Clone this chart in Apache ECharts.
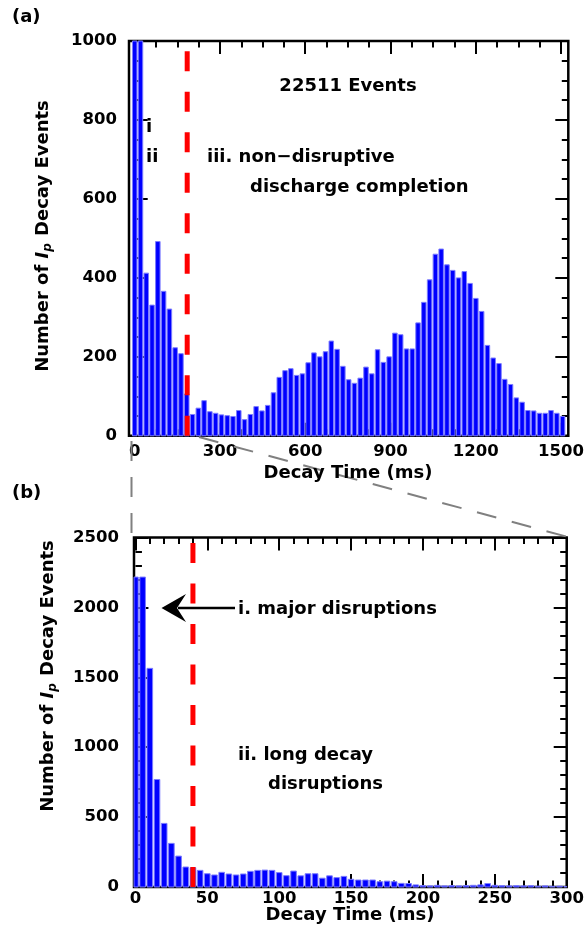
<!DOCTYPE html>
<html>
<head>
<meta charset="utf-8">
<script src="https://cdn.jsdelivr.net/npm/echarts@6/dist/echarts.min.js"></script>
<style>
  html, body { margin: 0; padding: 0; background: #ffffff; }
  #chart { width: 587px; height: 936px; }
</style>
</head>
<body>
<div id="chart"></div>
<script>
// ---- Data -------------------------------------------------------------
// (a) decay-time histogram over 0-1500 ms, 75 bins
const countsA = [5300, 3095, 412, 331, 492, 366, 321, 223, 208, 106,
  54, 70, 89, 61, 57, 53, 51, 49, 64, 41,
  54, 74, 63, 77, 109, 148, 165, 170, 153, 157,
  185, 210, 200, 213, 240, 219, 176, 142, 133, 146,
  174, 157, 218, 186, 200, 260, 256, 220, 220, 286,
  338, 395, 460, 473, 433, 419, 400, 416, 386, 348,
  315, 229, 197, 183, 143, 130, 96, 85, 64, 63,
  57, 57, 64, 57, 49];
const binWidthA = 1500 / 74;            // ms between bin centres
const timesA = countsA.map((_, i) => i * binWidthA);

// (b) zoom on 0-300 ms, 5 ms bins
const binWidthB = 5;
const countsB = [2217, 2217, 1564, 769, 455, 312, 221, 143, 138, 119,
  95, 86, 105, 93, 86, 93, 112, 119, 121, 119,
  103, 81, 114, 80, 95, 95, 63, 80, 67, 76,
  55, 50, 50, 50, 38, 42, 38, 26, 25, 15,
  10, 8, 12, 8, 10, 8, 10, 12, 15, 25,
  12, 10, 8, 10, 8, 10, 6, 8, 5, 6, 4];
const timesB = countsB.map((_, i) => i * binWidthB);

// disruption-class boundaries (ms)
const cutA = 184;
const cutB = 40;

// axis ranges and ticks
const xRangeA = [-20, 1520], xTicksA = [0, 1500, 300];
const yTicksA = [0, 1000, 200];
const xRangeB = [-1, 300],  xTicksB = [0, 300, 50];
const yTicksB = [0, 2500, 500];

// ---- Layout -----------------------------------------------------------
const frameA = { left: 129, top: 41, width: 439.3, height: 394.8 };
const frameB = { left: 134, top: 537.5, width: 432.7, height: 349.5 };

function innerGrid(frame, range, ticks) {
  const k = frame.width / (range[1] - range[0]);
  return {
    left: frame.left + (ticks[0] - range[0]) * k,
    top: frame.top,
    width: (ticks[1] - ticks[0]) * k,
    height: frame.height
  };
}
const innerA = innerGrid(frameA, xRangeA, xTicksA);
const innerB = innerGrid(frameB, xRangeB, xTicksB);

const FONT = 'DejaVu Sans';
const labelStyle = { fontFamily: FONT, fontWeight: 'bold', fontSize: 16.5, color: '#000' };
const tickStyle = { color: '#000', width: 2 };

function valueAxis(grid, ticks, opts) {
  return Object.assign({
    type: 'value', gridIndex: grid,
    min: ticks[0], max: ticks[1], interval: ticks[2],
    axisLine: { show: false },
    splitLine: { show: false },
    axisTick: { show: true, inside: true, length: 13, lineStyle: tickStyle },
    minorTick: { show: true, splitNumber: opts.minor, length: 6.5, lineStyle: tickStyle },
    axisLabel: Object.assign({
      show: !!opts.labels, margin: opts.margin || 8,
      formatter: function (v) { return String(v); }
    }, labelStyle)
  }, opts.extra || {});
}

function hiddenAxis(grid, range) {
  return { type: 'value', gridIndex: grid, min: range[0], max: range[1], show: false };
}

function barRenderer(width) {
  return function (params, api) {
    const t = api.value(0), v = api.value(1);
    const p0 = api.coord([t - width / 2, 0]);
    const p1 = api.coord([t + width / 2, v]);
    const cs = params.coordSys;
    const shape = echarts.graphic.clipRectByRect(
      { x: p0[0], y: p1[1], width: p1[0] - p0[0], height: p0[1] - p1[1] },
      { x: cs.x, y: cs.y, width: cs.width, height: cs.height }
    );
    if (!shape) return null;
    return {
      type: 'rect', shape: shape,
      style: { fill: '#0000ff', stroke: '#7c7cff', lineWidth: 1 }
    };
  };
}

const cutLineStyle = { color: '#ff0000', width: 5, type: [20, 20.5], cap: 'butt' };

const titleFont = 'bold 18px "DejaVu Sans"';
function label(text, x, y, align) {
  return {
    type: 'text', x: x, y: y, z: 100,
    style: { text: text, font: titleFont, fill: '#000',
      align: align || 'left', verticalAlign: 'middle',
      textAlign: align || 'left', textVerticalAlign: 'middle' }
  };
}
function yTitle(x, y) {
  return {
    type: 'text', x: x, y: y, rotation: Math.PI / 2, z: 100,
    style: {
      text: '{n|Number of }{it|I}{sub|p}{n| Decay Events}',
      fill: '#000', align: 'center', verticalAlign: 'middle',
      textAlign: 'center', textVerticalAlign: 'middle',
      rich: {
        n: { fontFamily: FONT, fontWeight: 'bold', fontSize: 18, fill: '#000', lineHeight: 22 },
        it: { fontFamily: FONT, fontWeight: 'bold', fontStyle: 'italic', fontSize: 18, fill: '#000', lineHeight: 22 },
        sub: { fontFamily: FONT, fontWeight: 'bold', fontStyle: 'italic', fontSize: 12, fill: '#000',
               verticalAlign: 'bottom', padding: [8, 1, 0, 0], lineHeight: 12 }
      }
    }
  };
}
function dashed(x1, y1, x2, y2) {
  return {
    type: 'line', z: 50,
    shape: { x1: x1, y1: y1, x2: x2, y2: y2 },
    style: { stroke: '#808080', lineWidth: 2, lineDash: [20, 16] }
  };
}

const chart = echarts.init(document.getElementById('chart'), null, { renderer: 'canvas' });

chart.setOption({
  backgroundColor: '#ffffff',
  animation: false,
  grid: [
    Object.assign({ show: true, borderColor: '#000', borderWidth: 2.5, backgroundColor: 'transparent' }, frameA),
    Object.assign({ show: false }, innerA),
    Object.assign({ show: true, borderColor: '#000', borderWidth: 2.5, backgroundColor: 'transparent' }, frameB),
    Object.assign({ show: false }, innerB)
  ],
  xAxis: [
    hiddenAxis(0, xRangeA),
    valueAxis(1, xTicksA, { minor: 4, labels: true, margin: 7, extra: { position: 'bottom' } }),
    valueAxis(1, xTicksA, { minor: 4, extra: { position: 'top' } }),
    hiddenAxis(2, xRangeB),
    valueAxis(3, xTicksB, { minor: 5, labels: true, margin: 3, extra: { position: 'bottom' } }),
    valueAxis(3, xTicksB, { minor: 5, extra: { position: 'top' } })
  ],
  yAxis: [
    valueAxis(0, yTicksA, { minor: 4, labels: true, margin: 12, extra: { position: 'left' } }),
    valueAxis(0, yTicksA, { minor: 4, extra: { position: 'right' } }),
    hiddenAxis(1, [0, 1]),
    valueAxis(2, yTicksB, { minor: 5, labels: true, margin: 15, extra: { position: 'left' } }),
    valueAxis(2, yTicksB, { minor: 5, extra: { position: 'right' } }),
    hiddenAxis(3, [0, 1])
  ],
  series: [
    {
      type: 'custom', xAxisIndex: 0, yAxisIndex: 0, z: 2,
      renderItem: barRenderer(binWidthA * 0.78),
      data: timesA.map((t, i) => [t, countsA[i]])
    },
    {
      type: 'line', xAxisIndex: 0, yAxisIndex: 0, z: 5,
      symbol: 'none', silent: true,
      lineStyle: cutLineStyle,
      data: [[cutA, yTicksA[0]], [cutA, yTicksA[1]]]
    },
    {
      type: 'custom', xAxisIndex: 3, yAxisIndex: 3, z: 2,
      renderItem: barRenderer(binWidthB * 0.78),
      data: timesB.map((t, i) => [t, countsB[i]])
    },
    {
      type: 'line', xAxisIndex: 3, yAxisIndex: 3, z: 5,
      symbol: 'none', silent: true,
      lineStyle: cutLineStyle,
      data: [[cutB, yTicksB[0]], [cutB, yTicksB[1]]]
    }
  ],
  graphic: [
    label('(a)', 12, 17),
    label('(b)', 12, 493),
    yTitle(43, 236),
    yTitle(48, 676),
    label('Decay Time (ms)', 348, 473, 'center'),
    label('Decay Time (ms)', 350, 915, 'center'),
    label('22511 Events', 348, 86, 'center'),
    label('i', 146, 127),
    label('ii', 146, 157),
    label('iii. non\u2212disruptive', 207, 157),
    label('discharge completion', 250, 187),
    label('i. major disruptions', 238, 609),
    label('ii. long decay', 238, 755),
    label('disruptions', 268, 784),
    // arrow pointing at the major-disruption peak
    { type: 'line', z: 60, shape: { x1: 235, y1: 608, x2: 178, y2: 608 },
      style: { stroke: '#000', lineWidth: 2.5 } },
    { type: 'polygon', z: 60,
      shape: { points: [[161.5, 608], [186, 594], [177, 608], [186, 622]] },
      style: { fill: '#000' } },
    // zoom connectors from (a) to (b)
    dashed(131.5, 441, 131.5, 537),
    dashed(199, 437, 568, 537)
  ]
});
</script>
</body>
</html>
